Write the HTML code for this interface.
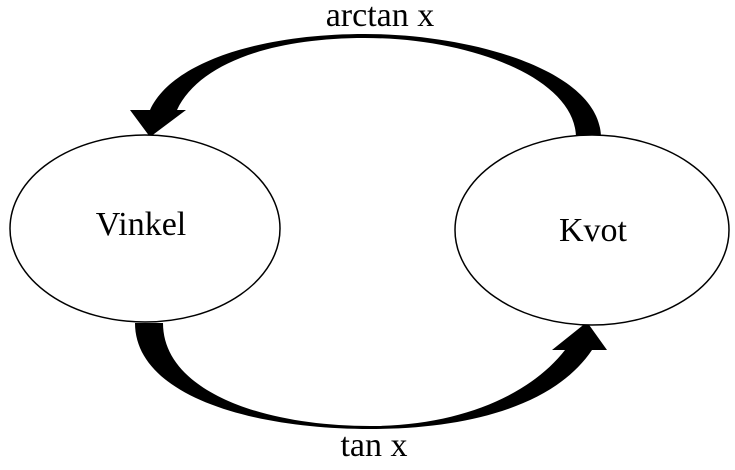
<!DOCTYPE html>
<html><head><style>
html,body{margin:0;padding:0;background:#fff;}
</style></head><body>
<svg width="735" height="465" viewBox="0 0 735 465" xmlns="http://www.w3.org/2000/svg">
<rect width="735" height="465" fill="#fff"/>
<path d="M601,138 C601,70 470,34 365,34 C260,34 172,62 150,110 L130,110 L150,137 L186,110 L177,110 C198,65 268,38 365,38 C470,38 576,78 576,138 Z" fill="#000"/>
<path d="M135,323 C135,395 250,429 370,429 C470,429 555,405 592,350 L607,350 L587,322 L552,350 L565,350 C530,395 460,426 370,426 C260,426 163,390 163,323 Z" fill="#000"/>
<ellipse cx="145" cy="228.5" rx="135" ry="93.5" fill="#fff" stroke="#000" stroke-width="1.5"/>
<ellipse cx="592" cy="230" rx="137" ry="95" fill="#fff" stroke="#000" stroke-width="1.5"/>
<g font-family="Liberation Serif, serif" font-size="34" fill="#000" text-anchor="middle">
<text x="141" y="235">Vinkel</text>
<text x="593" y="241">Kvot</text>
<text x="380" y="26">arctan x</text>
<text x="374" y="456">tan x</text>
</g>
</svg>
</body></html>
